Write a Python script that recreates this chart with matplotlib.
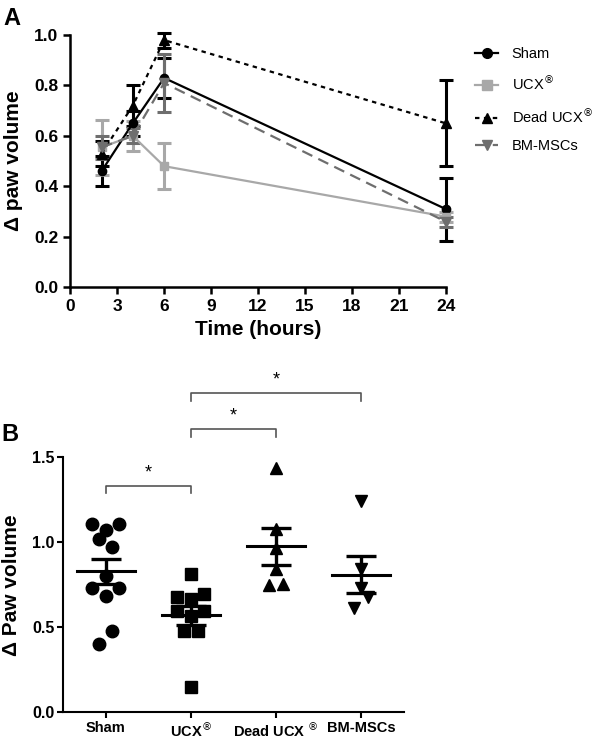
import numpy as np
import matplotlib.pyplot as plt
from matplotlib.lines import Line2D

plt.rcParams['font.family'] = ['Liberation Sans', 'DejaVu Sans']

# ---- panel A data ----
hours = [2, 4, 6, 24]
sham_mean = [0.46, 0.65, 0.83, 0.31]
sham_err = [0.06, 0.05, 0.08, 0.125]
ucx_mean = [0.555, 0.60, 0.48, 0.28]
ucx_err = [0.11, 0.06, 0.09, 0.02]
dead_mean = [0.53, 0.72, 0.98, 0.65]
dead_err = [0.05, 0.08, 0.03, 0.17]
bm_mean = [0.555, 0.60, 0.81, 0.26]
bm_err = [0.045, 0.03, 0.115, 0.02]

# ---- panel B data ----
groups = ["Sham", "UCX$^{\u00ae}$", "Dead UCX $^{\u00ae}$", "BM-MSCs"]
sham_pts = [1.11, 1.11, 1.07, 1.02, 0.97, 0.80, 0.73, 0.73, 0.685, 0.476, 0.40]
sham_dx = [-0.4, 0.4, 0.0, -0.2, 0.2, 0.0, -0.4, 0.4, 0.0, 0.2, -0.2]
ucx_pts = [0.815, 0.68, 0.695, 0.666, 0.596, 0.596, 0.567, 0.476, 0.476, 0.148]
ucx_dx = [0.0, -0.4, 0.4, 0.0, -0.4, 0.4, 0.0, -0.2, 0.2, 0.0]
dead_pts = [1.44, 1.08, 0.967, 0.843, 0.748, 0.758]
dead_dx = [0.0, 0.0, 0.0, 0.0, -0.2, 0.2]
bm_pts = [1.243, 0.843, 0.73, 0.68, 0.615]
bm_dx = [0.0, 0.0, 0.0, 0.2, -0.2]
b_mean = [0.83, 0.57, 0.977, 0.81]
b_sem = [0.075, 0.057, 0.11, 0.11]
# significance brackets: (left group, right group, height)
brackets = [(1, 2, 1.333), (2, 3, 1.666), (2, 4, 1.877)]

fig = plt.figure(figsize=(6, 7.46), dpi=100)

# ================= panel A =================
ax = fig.add_axes([0.117, 0.615, 0.626, 0.338])
styles = [
    ("Sham", sham_mean, sham_err, "black", "-", "o", 6),
    ("UCX$^{\u00ae}$", ucx_mean, ucx_err, "#a8a8a8", "-", "s", 6),
    ("Dead UCX$^{\u00ae}$", dead_mean, dead_err, "black", (0, (2, 2)), "^", 6.5),
    ("BM-MSCs", bm_mean, bm_err, "#6e6e6e", (0, (5, 3)), "v", 6.5),
]
handles = []
for name, m, e, c, ls, mk, ms in styles:
    ax.errorbar(hours, m, yerr=e, color=c, linestyle=ls, marker=mk, markersize=ms,
                linewidth=1.6, elinewidth=2.2, capsize=5, capthick=2.2, clip_on=False)
    handles.append(Line2D([], [], color=c, linestyle=ls, marker=mk, markersize=ms + 1,
                          linewidth=1.6, label=name))

ax.set_xlim(0, 24)
ax.set_ylim(0, 1.0)
ax.set_xticks(np.arange(0, 25, 3))
ax.set_yticks(np.arange(0, 1.01, 0.2))
ax.set_yticklabels([f"{v:.1f}" for v in np.arange(0, 1.01, 0.2)])
for s in ["top", "right"]:
    ax.spines[s].set_visible(False)
for s in ["left", "bottom"]:
    ax.spines[s].set_linewidth(1.8)
ax.tick_params(width=1.8, length=5, labelsize=12.5)
for lab in ax.get_xticklabels() + ax.get_yticklabels():
    lab.set_fontweight("bold")
ax.set_xlabel("Time (hours)", fontsize=15, fontweight="bold")
ax.set_ylabel("\u0394 paw volume", fontsize=15, fontweight="bold", labelpad=8)

leg = fig.legend(handles=handles, loc="upper left", bbox_to_anchor=(0.77, 0.955),
                 frameon=False, fontsize=10.5, handlelength=1.6, handletextpad=0.9,
                 labelspacing=0.9)

fig.text(0.005, 0.975, "A", fontsize=17, fontweight="bold", va="center")

# ================= panel B =================
bx = fig.add_axes([0.105, 0.045, 0.568, 0.342])
pts = [sham_pts, ucx_pts, dead_pts, bm_pts]
dxs = [sham_dx, ucx_dx, dead_dx, bm_dx]
marks = [("o", 9), ("s", 8.5), ("^", 8.5), ("v", 8.5)]
for i in range(4):
    xs = (i + 1) + np.array(dxs[i]) * 0.4
    bx.plot(xs, pts[i], linestyle="none", marker=marks[i][0], markersize=marks[i][1],
            color="black", clip_on=False)
    xc = i + 1
    bx.plot([xc - 0.34, xc + 0.34], [b_mean[i], b_mean[i]], color="black", lw=2.2)
    bx.errorbar([xc], [b_mean[i]], yerr=[b_sem[i]], color="black", elinewidth=2.4,
                capsize=11, capthick=2.4, fmt="none")

for g1, g2, h in brackets:
    bx.plot([g1, g1, g2, g2], [h - 0.045, h, h, h - 0.045], color="#555555", lw=1.2,
            clip_on=False)
    bx.text((g1 + g2) / 2, h + 0.025, "*", ha="center", va="bottom", fontsize=13,
            clip_on=False)

bx.set_xlim(0.5, 4.5)
bx.set_ylim(0, 1.5)
bx.set_xticks([1, 2, 3, 4])
bx.set_xticklabels(groups)
bx.set_yticks([0, 0.5, 1.0, 1.5])
bx.set_yticklabels(["0.0", "0.5", "1.0", "1.5"])
for s in ["top", "right"]:
    bx.spines[s].set_visible(False)
for s in ["left", "bottom"]:
    bx.spines[s].set_linewidth(1.5)
bx.tick_params(axis="y", width=1.5, length=4, labelsize=11.5, pad=2)
bx.tick_params(axis="x", width=1.5, length=4, labelsize=10.5, pad=2)
for lab in bx.get_xticklabels() + bx.get_yticklabels():
    lab.set_fontweight("bold")
bx.set_ylabel("\u0394 Paw volume", fontsize=15, fontweight="bold", labelpad=8)

fig.text(0.003, 0.417, "B", fontsize=17, fontweight="bold", va="center")

fig.savefig("out.png", dpi=100)
